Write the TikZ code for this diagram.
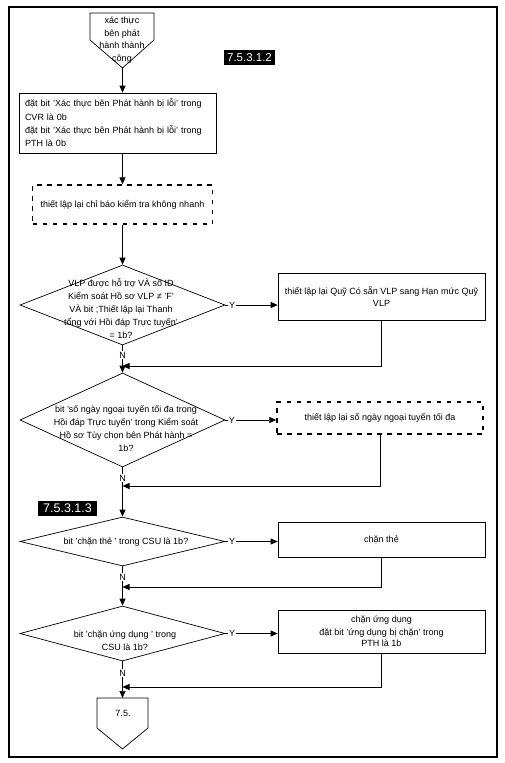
\documentclass[tikz,border=0pt]{standalone}
\usepackage{fontspec}
\setmainfont{Liberation Sans}
\usetikzlibrary{shapes.geometric,arrows.meta}

\tikzset{
  procbox/.style={draw, line width=0.7pt, minimum width=207pt, inner sep=2pt, align=center,
    font=\fontsize{9}{12}\selectfont},
  dashbox/.style={procbox, line width=1.4pt, dash pattern=on 4.5pt off 5.5pt},
  decision/.style={draw, diamond, line width=0.7pt, minimum width=205pt, inner sep=0pt},
  dtext/.style={align=center, inner sep=0pt, font=\fontsize{9}{13}\selectfont},
  flow/.style={line width=0.7pt, -{Triangle[length=7pt,width=6pt]}},
  lbl/.style={fill=white, inner sep=1pt, font=\fontsize{9}{10}\selectfont},
  tag/.style={fill=black, text=white, inner sep=3pt}
}

\begin{document}
\begin{tikzpicture}[x=1pt,y=-1pt]
\useasboundingbox (0,0) rectangle (504,763);

% frame
\draw[line width=1.1pt] (9,7) rectangle (497,757);

% start connector
\draw[line width=0.7pt] (90,13)--(154,13)--(154,40)--(122.5,68)--(90,40)--cycle;
\coordinate (startpt) at (122.5,68);
\node[align=center, inner sep=0pt, font=\fontsize{9}{12.7}\selectfont] (startlbl) at (122,40)
  {xác thực\\bên phát\\hành thành\\công};

\node[tag, font=\fontsize{11.5}{12}\selectfont] (tagA) at (249.5,57.5) {7.5.3.1.2};

\node[procbox, minimum width=197pt, minimum height=60pt, text width=185pt, align=left,
  inner xsep=6pt, font=\fontsize{9}{13.3}\selectfont] (seterr) at (117.5,123)
  {đặt bit 'Xác thực bên Phát hành bị lỗi' trong\\CVR là 0b\\đặt bit 'Xác thực bên Phát hành bị lỗi' trong\\PTH là 0b};

\node[dashbox, minimum width=180pt, minimum height=39pt] (fastrs) at (122.5,204.5)
  {thiết lập lại chỉ báo kiểm tra không nhanh};

% VLP
\node[decision, minimum height=80pt] (dvlp) at (122.5,305) {};
\node[dtext] (dvlptxt) at (121,309)
  {VLP được hỗ trợ VÀ số ID\\Kiểm soát Hồ sơ VLP ≠ 'F'\\VÀ bit ;Thiết lập lại Thanh\\tổng với Hồi đáp Trực tuyến'\\= 1b?};
\node[procbox, minimum height=47pt] (vlpbox) at (381.5,296.5)
  {thiết lập lại Quỹ Có sẵn VLP sang Hạn mức Quỹ\\VLP};
\coordinate (j1) at (122.5,366);

% offline days
\node[decision, minimum height=94pt] (doff) at (122.5,420) {};
\node[dtext] (dofftxt) at (126,429)
  {bit 'số ngày ngoại tuyến tối đa trong\\Hồi đáp Trực tuyến' trong Kiểm soát\\Hồ sơ Tùy chọn bên Phát hành =\\1b?};
\node[dashbox, minimum width=206pt, minimum height=32pt] (offbox) at (380,418)
  {thiết lập lại số ngày ngoại tuyến tối đa};
\coordinate (j2) at (122.5,486);

\node[tag, font=\fontsize{12.5}{13}\selectfont, inner xsep=5pt] (tagB) at (67.5,508.5) {7.5.3.1.3};

% card block
\node[decision, minimum height=49pt] (dcard) at (122.5,541.5) {};
\node[dtext] (dcardtxt) at (126,542) {bit 'chặn thẻ ' trong CSU là 1b?};
\node[procbox, minimum height=35pt] (cardbox) at (381.5,539.5) {chặn thẻ};
\coordinate (j3) at (122.5,587);

% application block
\node[decision, minimum height=55pt] (dapp) at (122.5,633.5) {};
\node[dtext] (dapptxt) at (125,641) {bit 'chặn ứng dụng ' trong\\CSU là 1b?};
\node[procbox, minimum height=43pt, font=\fontsize{9}{11}\selectfont] (appbox) at (381.5,631.5)
  {chặn ứng dụng\\[2pt]đặt bit 'ứng dụng bị chặn' trong\\PTH là 1b};
\coordinate (j4) at (122.5,687);

% end connector
\draw[line width=0.7pt] (97,698)--(148,698)--(148,728)--(122.5,749)--(97,728)--cycle;
\coordinate (endtop) at (122.5,698);
\node[font=\fontsize{9}{10}\selectfont] (endlbl) at (123,713) {7.5.};

% connectors
\draw[flow] (startpt) -- (startpt |- seterr.north);
\draw[flow] (seterr.south -| fastrs.north) -- (fastrs.north);
\draw[flow] (fastrs.south) -- (dvlp.north);

\draw[flow] (dvlp.east) -- (dvlp.east -| vlpbox.west) node[lbl, pos=0.13] {Y};
\draw[flow] (vlpbox.south) |- (j1);
\draw[flow] (dvlp.south) -- (doff.north) node[lbl, pos=0.36] {N};

\draw[flow] (doff.east) -- (doff.east -| offbox.west) node[lbl, pos=0.13] {Y};
\draw[flow] (offbox.south) |- (j2);
\draw[flow] (doff.south) -- (dcard.north) node[lbl, pos=0.22] {N};

\draw[flow] (dcard.east) -- (dcard.east -| cardbox.west) node[lbl, pos=0.13] {Y};
\draw[flow] (cardbox.south) |- (j3);
\draw[flow] (dcard.south) -- (dapp.north) node[lbl, pos=0.27] {N};

\draw[flow] (dapp.east) -- (dapp.east -| appbox.west) node[lbl, pos=0.13] {Y};
\draw[flow] (appbox.south) |- (j4);
\draw[flow] (dapp.south) -- (endtop) node[lbl, pos=0.32] {N};

\end{tikzpicture}
\end{document}
